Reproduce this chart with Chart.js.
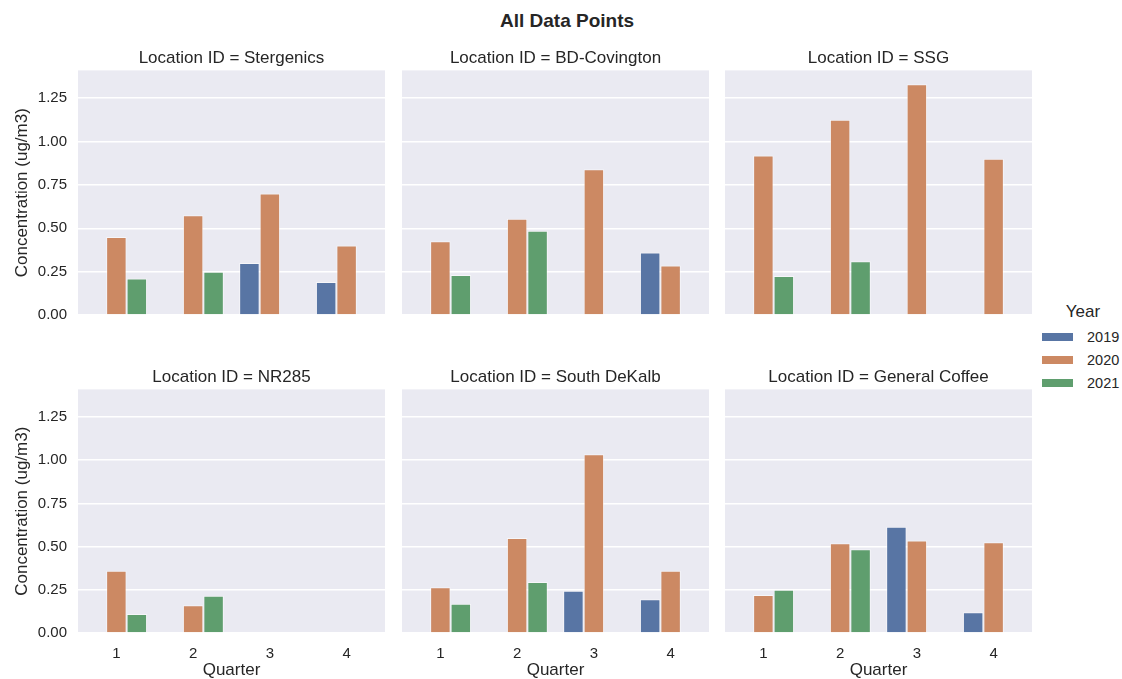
<!DOCTYPE html>
<html>
<head>
<meta charset="utf-8">
<script src="https://cdn.jsdelivr.net/npm/chart.js@4.4.1/dist/chart.umd.min.js"></script>
<style>
  body { margin: 0; width: 1122px; height: 679px; position: relative; overflow: hidden; background: #fff;
         font-family: "Liberation Sans", Arial, sans-serif; color: #262626; }
  canvas { position: absolute; }
  #suptitle { position: absolute; left: 567px; top: 10px; transform: translateX(-50%); font-size: 19px; font-weight: bold; white-space: nowrap; }
  #legend { position: absolute; left: 1040px; top: 302px; width: 82px; }
  #legend .head { position: absolute; left: 43px; top: 0; transform: translateX(-50%); font-size: 17px; }
  #legend .row { position: absolute; left: 2px; height: 16px; font-size: 14.5px; }
  #legend .sw { position: absolute; left: 0; top: 4px; width: 31px; height: 8px; }
  #legend .lbl { position: absolute; left: 45px; top: 0; line-height: 16px; }
</style>
</head>
<body>
<div id="suptitle">All Data Points</div>
<canvas id="c0" width="385" height="287" style="left:0;top:48px"></canvas>
<canvas id="c1" width="307" height="287" style="left:402px;top:48px"></canvas>
<canvas id="c2" width="307" height="287" style="left:725px;top:48px"></canvas>
<canvas id="c3" width="385" height="314" style="left:0;top:367px"></canvas>
<canvas id="c4" width="307" height="314" style="left:402px;top:367px"></canvas>
<canvas id="c5" width="307" height="314" style="left:725px;top:367px"></canvas>
<div id="legend"></div>

<script>
/* ─── Data ────────────────────────────────────────────────────── */

const quarters = ['1', '2', '3', '4'];
const years    = ['2019', '2020', '2021'];
const colors   = ['#5875a4', '#cc8963', '#5f9e6e'];
const yTicks   = [0, 0.25, 0.5, 0.75, 1.0, 1.25];

const locations = ['Stergenics', 'BD-Covington', 'SSG', 'NR285', 'South DeKalb', 'General Coffee'];

// one row per year: 2019, 2020, 2021 ; one value per quarter
const stergenics = [
  [null, null, 0.30, 0.19],
  [0.45, 0.575, 0.70, 0.40],
  [0.21, 0.25, null, null]
];
const bdCovington = [
  [null, null, null, 0.36],
  [0.425, 0.555, 0.84, 0.285],
  [0.23, 0.485, null, null]
];
const ssg = [
  [null, null, null, null],
  [0.92, 1.125, 1.33, 0.90],
  [0.225, 0.31, null, null]
];
const nr285 = [
  [null, null, null, null],
  [0.36, 0.16, null, null],
  [0.11, 0.215, null, null]
];
const southDeKalb = [
  [null, null, 0.245, 0.195],
  [0.265, 0.55, 1.035, 0.36],
  [0.17, 0.295, null, null]
];
const generalCoffee = [
  [null, null, 0.615, 0.12],
  [0.22, 0.52, 0.535, 0.525],
  [0.25, 0.485, null, null]
];

const panelData = [stergenics, bdCovington, ssg, nr285, southDeKalb, generalCoffee];

const TEXT = '#262626';
const FONT = '"Liberation Sans", Arial, sans-serif';

// axes background (seaborn darkgrid)
const bgPlugin = {
  id: 'bg',
  beforeDraw(chart) {
    const { ctx, chartArea: a } = chart;
    ctx.save();
    ctx.fillStyle = '#eaeaf2';
    ctx.fillRect(a.left, a.top, a.right - a.left, a.bottom - a.top);
    ctx.restore();
  }
};

function makePanel(i) {
  const leftCol   = i % 3 === 0;
  const bottomRow = i >= 3;
  const series    = panelData[i];

  new Chart(document.getElementById('c' + i), {
    type: 'bar',
    data: {
      labels: quarters,
      datasets: years.map((y, k) => ({
        label: y,
        data: series[k],
        backgroundColor: colors[k],
        borderColor: 'rgba(255,255,255,0.55)',
        borderWidth: 1,
        borderSkipped: 'bottom',
        categoryPercentage: 0.8,
        barPercentage: 1.0
      }))
    },
    options: {
      responsive: false,
      animation: false,
      devicePixelRatio: 1,
      layout: { padding: 0 },
      scales: {
        x: {
          grid: { display: false, drawTicks: false },
          border: { display: false },
          ticks: { display: bottomRow, color: TEXT, padding: 12, font: { family: FONT, size: 15 } },
          title: {
            display: bottomRow, text: 'Quarter', color: TEXT,
            padding: { top: 0, bottom: 0 }, font: { family: FONT, size: 17 }
          },
          afterFit: s => { s.height = bottomRow ? 48 : 20; }
        },
        y: {
          min: 0,
          max: 1.41,
          afterBuildTicks: s => { s.ticks = yTicks.map(v => ({ value: v })); },
          grid: { color: '#ffffff', lineWidth: 1.5, drawTicks: false },
          border: { display: false },
          ticks: {
            display: leftCol, color: TEXT, padding: 11,
            font: { family: FONT, size: 15 },
            callback: v => Number(v).toFixed(2)
          },
          title: {
            display: leftCol, text: 'Concentration (ug/m3)', color: TEXT,
            padding: { top: 12, bottom: 0 }, font: { family: FONT, size: 17 }
          },
          afterFit: s => { s.width = leftCol ? 78 : 0; }
        }
      },
      plugins: {
        legend: { display: false },
        tooltip: { enabled: false },
        title: {
          display: true,
          text: 'Location ID = ' + locations[i],
          fullSize: false,
          color: TEXT,
          padding: { top: 0, bottom: 2 },
          font: { family: FONT, size: 17, weight: 'normal' }
        }
      }
    },
    plugins: [bgPlugin]
  });
}

for (let i = 0; i < 6; i++) makePanel(i);

// ── Legend ──
const legend = document.getElementById('legend');
legend.innerHTML = '<div class="head">Year</div>' + years.map((y, k) =>
  `<div class="row" style="top:${27 + k * 23}px">
     <div class="sw" style="background:${colors[k]}"></div>
     <div class="lbl">${y}</div>
   </div>`).join('');
</script>
</body>
</html>
